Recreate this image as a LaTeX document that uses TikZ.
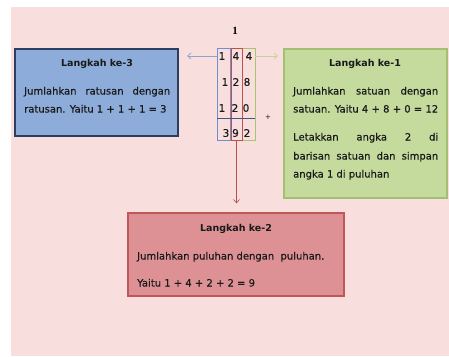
\documentclass[tikz,border=0pt]{standalone}
\usepackage{fontspec}
\setmainfont{DejaVu Sans}
\newfontfamily\bodyf{DejaVu Sans}[FakeBold=0.35]
\newfontfamily\serifnum{Liberation Serif}
\usetikzlibrary{arrows.meta}
\definecolor{bgpink}{HTML}{F8DEDD}
\definecolor{bluefill}{HTML}{8DACD9}
\definecolor{blueline}{HTML}{2C3E5F}
\definecolor{greenfill}{HTML}{C5DB9E}
\definecolor{greenline}{HTML}{A3C070}
\definecolor{redfill}{HTML}{DE9194}
\definecolor{redline}{HTML}{C0565A}
\definecolor{colblue}{HTML}{6F8FD0}
\definecolor{colred}{HTML}{C0504D}
\definecolor{colgreen}{HTML}{A8C56E}
\definecolor{arrblue}{HTML}{8FA3C8}
\definecolor{arrgreen}{HTML}{CBD098}
\definecolor{arrred}{HTML}{B5504C}
\definecolor{txt}{HTML}{1A1A1A}
\begin{document}
\begin{tikzpicture}[x=1pt,y=-1pt,
  stepbox/.style={rectangle, inner sep=0pt, line width=1.2pt},
  colbox/.style={rectangle, inner sep=0pt, line width=0.9pt, draw},
  title/.style={anchor=base, inner sep=0pt, font=\fontsize{9.5}{11}\selectfont\bfseries, text=txt},
  body/.style={anchor=base west, inner sep=0pt, font=\bodyf\fontsize{10}{12}\selectfont, text=txt},
  digit/.style={anchor=center, inner sep=0pt, font=\bodyf\fontsize{10.5}{12}\selectfont, text=txt},
  conn/.style={line width=0.7pt, -{Straight Barb[length=3.5pt,width=6pt]}}
]
\useasboundingbox (0,0) rectangle (449,356);
\fill[bgpink] (11,7) rectangle (449,356);

% boxes
\node[stepbox, fill=bluefill, draw=blueline, minimum width=163pt, minimum height=87pt] (b3) at (96.5,92.5) {};
\node[stepbox, fill=greenfill, draw=greenline, minimum width=163pt, minimum height=149pt] (b1) at (365.5,123.5) {};
\node[stepbox, fill=redfill, draw=redline, minimum width=216pt, minimum height=83pt] (b2) at (236,254.5) {};

% texts blue
\node[title] (t3) at (97,66.5) {Langkah ke-3};
\node[body] (l31) at (24,94.5) {\makebox[146pt][s]{Jumlahkan ratusan dengan}};
\node[body] (l32) at (24,112.5) {ratusan. Yaitu 1 + 1 + 1 = 3};

% texts green
\node[title] (t1) at (365,66.5) {Langkah ke-1};
\node[body] (l11) at (293,94.5) {\makebox[145pt][s]{Jumlahkan satuan dengan}};
\node[body] (l12) at (293,112.5) {\makebox[145pt][s]{satuan. Yaitu 4 + 8 + 0 = 12}};
\node[body] (l13) at (293,140.5) {\makebox[145pt][s]{Letakkan angka 2 di}};
\node[body] (l14) at (293,159.5) {\makebox[145pt][s]{barisan satuan dan simpan}};
\node[body] (l15) at (293,177.5) {angka 1 di puluhan};

% texts red
\node[title] (t2) at (236,231.5) {Langkah ke-2};
\node[body] (l21) at (137,259.5) {Jumlahkan puluhan dengan\ \ puluhan.};
\node[body] (l22) at (137,286.5) {Yaitu 1 + 4 + 2 + 2 = 9};

% column
\node[colbox, draw=colblue, minimum width=13pt, minimum height=92pt] (cb) at (223.5,94) {};
\node[colbox, draw=colgreen, minimum width=13pt, minimum height=92pt] (cg) at (248.5,94) {};
\node[colbox, draw=colred, minimum width=11pt, minimum height=92pt] (cr) at (236.5,94) {};
\coordinate (hl) at (217,118);
\coordinate (hr) at (255,118);
\draw[line width=0.6pt, draw=colblue!60!black] (hl) -- (hr);

% digits
\node[digit] (d11) at (222,56) {1};
\node[digit] (d12) at (236,56) {4};
\node[digit] (d13) at (249,56) {4};
\node[digit] (d21) at (225,82) {1};
\node[digit] (d22) at (236,82) {2};
\node[digit] (d23) at (247,82) {8};
\node[digit] (d31) at (222,108) {1};
\node[digit] (d32) at (235,108) {2};
\node[digit] (d33) at (246,108) {0};
\node[digit] (s1) at (226,133) {3};
\node[digit] (s2) at (235.5,133) {9};
\node[digit] (s3) at (247,133) {2};

\node[anchor=center, inner sep=0pt, font=\serifnum\bfseries\fontsize{11}{12}\selectfont] (carry) at (235,31) {1};
\node[anchor=center, inner sep=0pt, font=\fontsize{7}{8}\selectfont, text=txt] (plus) at (268,117) {+};

% connectors
\coordinate (la) at (187,56);
\coordinate (ra) at (278,56);
\draw[conn, arrblue] (cb.west |- la) -- (la);
\draw[conn, arrgreen] (cg.east |- ra) -- (ra);
\draw[conn, arrred, line width=0.6pt, shorten >=9pt] (cr.south) -- (cr.south |- b2.north);
\end{tikzpicture}
\end{document}
